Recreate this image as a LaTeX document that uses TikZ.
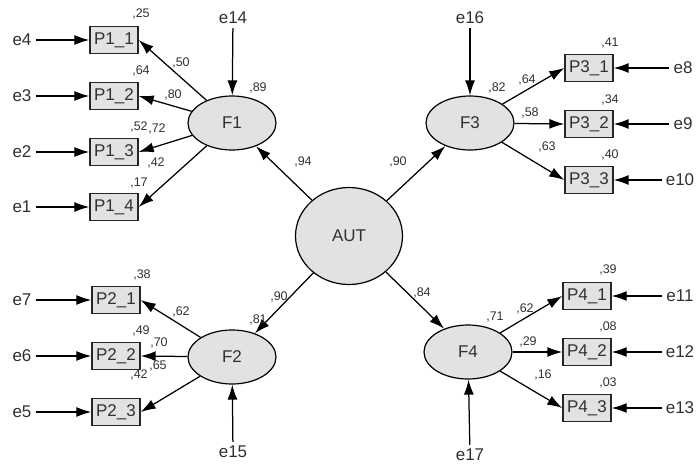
\documentclass[tikz,border=0pt]{standalone}
\usepackage{fontspec}
\setmainfont{Liberation Sans}
\usetikzlibrary{arrows.meta,shapes.geometric}
\definecolor{txt}{HTML}{303030}
\definecolor{fillg}{HTML}{E2E2E2}
\tikzset{
  lat/.style={ellipse, draw=black, line width=1.2pt, fill=fillg, minimum width=88pt, minimum height=54pt, inner sep=0pt, text=txt, font=\fontsize{17}{17}\selectfont},
  obs/.style={rectangle, draw=black!85, line width=1.4pt, fill=fillg, minimum width=48pt, minimum height=27pt, inner sep=0pt, text=txt, font=\fontsize{17}{17}\selectfont},
  err/.style={inner sep=4pt, text=txt, font=\fontsize{17}{17}\selectfont},
  num/.style={inner sep=0pt, text=txt, font=\fontsize{12.5}{12.5}\selectfont},
  arr/.style={-{Latex[length=15pt,width=10pt]}, line width=1.25pt, draw=black},
}
\begin{document}
\begin{tikzpicture}[x=1pt,y=-1pt]
\useasboundingbox (0,0) rectangle (697,466);
% latent
\node[lat, minimum width=107pt, minimum height=97pt] (AUT) at (349,236) {AUT};
\node[lat] (F1) at (232,123) {F1};
\node[lat] (F2) at (232,357) {F2};
\node[lat] (F3) at (470,123) {F3};
\node[lat] (F4) at (468,352) {F4};
% observed
\node[obs] (P11) at (114,40) {P1\_1};
\node[obs] (P12) at (114,96) {P1\_2};
\node[obs] (P13) at (114,152) {P1\_3};
\node[obs] (P14) at (114,207) {P1\_4};
\node[obs] (P21) at (116,300) {P2\_1};
\node[obs] (P22) at (116,356) {P2\_2};
\node[obs] (P23) at (116,412) {P2\_3};
\node[obs] (P31) at (589,68) {P3\_1};
\node[obs] (P32) at (589,124) {P3\_2};
\node[obs] (P33) at (589,180) {P3\_3};
\node[obs] (P41) at (587,296) {P4\_1};
\node[obs] (P42) at (587,352) {P4\_2};
\node[obs] (P43) at (587,408) {P4\_3};
% errors
\node[err] (e4) at (22,40) {e4};
\node[err] (e3) at (22,96) {e3};
\node[err] (e2) at (22,152) {e2};
\node[err] (e1) at (22,207) {e1};
\node[err] (e7) at (22,300) {e7};
\node[err] (e6) at (22,356) {e6};
\node[err] (e5) at (22,412) {e5};
\node[err] (e8) at (683,68) {e8};
\node[err] (e9) at (683,124) {e9};
\node[err] (e10) at (680,180) {e10};
\node[err] (e11) at (680,296) {e11};
\node[err] (e12) at (680,352) {e12};
\node[err] (e13) at (680,408) {e13};
\node[err] (e14) at (233,18) {e14};
\node[err] (e15) at (233,452) {e15};
\node[err] (e16) at (470,18) {e16};
\node[err] (e17) at (470,455) {e17};
% error arrows
\foreach \e/\p in {e4/P11,e3/P12,e2/P13,e1/P14,e7/P21,e6/P22,e5/P23}
  \draw[arr] (\e.east) -- (\p.west);
\foreach \e/\p in {e8/P31,e9/P32,e10/P33,e11/P41,e12/P42,e13/P43}
  \draw[arr] (\e.west) -- (\p.east);
\draw[arr] (e14) -- (F1);
\draw[arr] (e15) -- (F2);
\draw[arr] (e16) -- (F3);
\draw[arr] (e17) -- (F4);
% structural
\draw[arr] (AUT) -- (F1);
\draw[arr] (AUT) -- (F2);
\draw[arr] (AUT) -- (F3);
\draw[arr] (AUT) -- (F4);
% loadings
\foreach \p in {P11,P12,P13,P14} \draw[arr] (F1) -- (\p.east);
\foreach \p in {P21,P22,P23} \draw[arr] (F2) -- (\p.east);
\foreach \p in {P31,P32,P33} \draw[arr] (F3) -- (\p.west);
\foreach \p in {P41,P42,P43} \draw[arr] (F4) -- (\p.west);
% numbers
\node[num] (r11) at (141,14) {,25};
\node[num] (r12) at (141,71) {,64};
\node[num] (r13) at (139,127) {,52};
\node[num] (r14) at (139,183) {,17};
\node[num] (l11) at (181,63) {,50};
\node[num] (l12) at (173,95) {,80};
\node[num] (l13) at (157,129) {,72};
\node[num] (l14) at (156,163) {,42};
\node[num] (r21) at (142,275) {,38};
\node[num] (r22) at (141,331) {,49};
\node[num] (r23) at (139,375) {,42};
\node[num] (l21) at (181,312) {,62};
\node[num] (l22) at (159,343) {,70};
\node[num] (l23) at (158,366) {,65};
\node[num] (r31) at (610,43) {,41};
\node[num] (r32) at (610,100) {,34};
\node[num] (r33) at (610,155) {,40};
\node[num] (l31) at (527,80) {,64};
\node[num] (l32) at (530,113) {,58};
\node[num] (l33) at (547,147) {,63};
\node[num] (r41) at (608,270) {,39};
\node[num] (r42) at (608,327) {,08};
\node[num] (r43) at (608,383) {,03};
\node[num] (l41) at (525,309) {,62};
\node[num] (l42) at (528,342) {,29};
\node[num] (l43) at (543,375) {,16};
\node[num] (rF1) at (258,88) {,89};
\node[num] (rF2) at (258,320) {,81};
\node[num] (rF3) at (497,88) {,82};
\node[num] (rF4) at (495,317) {,71};
\node[num] (sF1) at (303,162) {,94};
\node[num] (sF3) at (398,162) {,90};
\node[num] (sF2) at (279,297) {,90};
\node[num] (sF4) at (422,293) {,84};
\end{tikzpicture}
\end{document}
